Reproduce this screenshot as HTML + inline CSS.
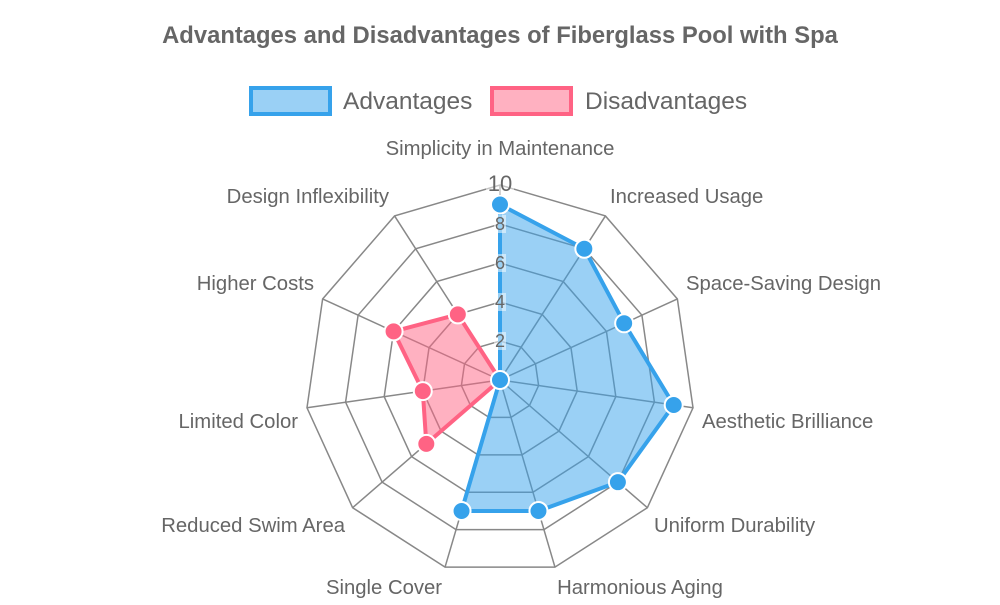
<!DOCTYPE html>
<html><head><meta charset="utf-8"><style>
body{margin:0;background:#fff;}
svg text{font-family:"Liberation Sans",sans-serif;fill:#666;}
</style></head><body>
<svg id="s" width="1000" height="600" xmlns="http://www.w3.org/2000/svg">
<text x="500" y="43" text-anchor="middle" font-size="23.8" font-weight="bold">Advantages and Disadvantages of Fiberglass Pool with Spa</text>
<rect x="251" y="88" width="79" height="26" fill="rgba(54,162,235,0.5)" stroke="#36a2eb" stroke-width="4"/>
<text x="343" y="109" font-size="24.5">Advantages</text>
<rect x="492" y="88" width="79" height="26" fill="rgba(255,99,132,0.5)" stroke="#ff6384" stroke-width="4"/>
<text x="585" y="109" font-size="24.5">Disadvantages</text>
<g font-size="20.3">
<text x="500" y="155" text-anchor="middle">Simplicity in Maintenance</text>
<text x="610" y="203">Increased Usage</text>
<text x="686" y="290">Space-Saving Design</text>
<text x="702" y="428">Aesthetic Brilliance</text>
<text x="654" y="532">Uniform Durability</text>
<text x="640" y="594" text-anchor="middle">Harmonious Aging</text>
<text x="384" y="594" text-anchor="middle">Single Cover</text>
<text x="345" y="532" text-anchor="end">Reduced Swim Area</text>
<text x="298" y="428" text-anchor="end">Limited Color</text>
<text x="314" y="290" text-anchor="end">Higher Costs</text>
<text x="389" y="203" text-anchor="end">Design Inflexibility</text>
</g>
<g id="g"></g>
</svg>
<script>
var cx=500,cy=380,R=195,N=11,ns="http://www.w3.org/2000/svg",g=document.getElementById('g');
function P(i,v){var a=(-90+360/N*i)*Math.PI/180;return [cx+Math.cos(a)*R*v/10,cy+Math.sin(a)*R*v/10];}
function el(t,at){var e=document.createElementNS(ns,t);for(var k in at)e.setAttribute(k,at[k]);g.appendChild(e);return e;}
for(var r=2;r<=10;r+=2){var pts=[];for(var i=0;i<N;i++)pts.push(P(i,r).join(','));el('polygon',{points:pts.join(' '),fill:'none',stroke:'#888','stroke-width':1.5});}
for(var i=0;i<N;i++){var p=P(i,10);el('line',{x1:cx,y1:cy,x2:p[0],y2:p[1],stroke:'#888','stroke-width':1.5});}
function ds(d,f,s){var pts=d.map(function(v,i){return P(i,v).join(',')});el('polygon',{points:pts.join(' '),fill:f,stroke:s,'stroke-width':4,'stroke-linejoin':'round'});}
var A=[9,8,7,9,8,7,7,0,0,0,0];
var D=[0,0,0,0,0,0,0,5,4,6,4];
ds(A,'rgba(54,162,235,0.5)','#36a2eb');
ds(D,'rgba(255,99,132,0.5)','#ff6384');
D.forEach(function(v,i){if(v>0){var p=P(i,v);el('circle',{cx:p[0],cy:p[1],r:9,fill:'#ff6384',stroke:'#fff','stroke-width':2});}});
A.forEach(function(v,i){if(v>0){var p=P(i,v);el('circle',{cx:p[0],cy:p[1],r:9,fill:'#36a2eb',stroke:'#fff','stroke-width':2});}});
el('circle',{cx:cx,cy:cy,r:9,fill:'#36a2eb',stroke:'#fff','stroke-width':2});
for(var r=2;r<=10;r+=2){var y=cy-R*r/10;var fs=r==10?22:18;
el('rect',{x:cx-(r==10?14:6),y:y-9,width:r==10?28:12,height:18,fill:'rgba(255,255,255,0.5)'});
var t=el('text',{x:cx,y:y+6,'text-anchor':'middle','font-size':fs});t.textContent=r;}
</script>
</body></html>
